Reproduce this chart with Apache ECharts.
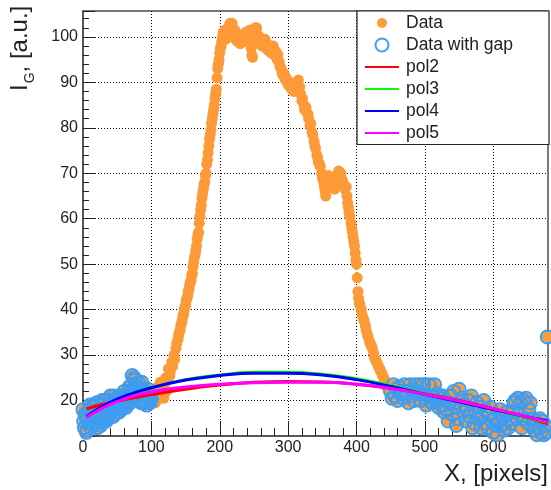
<!DOCTYPE html>
<html>
<head>
<meta charset="utf-8">
<script src="https://cdn.jsdelivr.net/npm/echarts@6/dist/echarts.min.js"></script>
<style>
  html, body { margin: 0; padding: 0; background: #fff; }
  #chart { width: 551px; height: 490px; }
</style>
</head>
<body>
<div id="chart"></div>
<script>
// left side, outside the peak -> also goes into "Data with gap"
var leftX = [0, 1, 2, 3, 4, 5, 6, 7, 8, 9, 10, 11, 12, 13, 14, 15, 16, 17, 18, 19, 20, 21, 22, 23, 24, 25,
  26, 27, 28, 29, 30, 31, 32, 33, 34, 35, 36, 37, 38, 39, 40, 41, 42, 43, 44, 45, 46, 47, 48, 49, 50,
  51, 52, 53, 54, 55, 56, 57, 58, 59, 60, 61, 62, 63, 64, 65, 66, 67, 68, 69, 70, 71, 72, 73, 74, 75,
  76, 77, 78, 79, 80, 81, 82, 83, 84, 85, 86, 87, 88, 89, 90, 91, 92, 93, 94, 95, 96, 97, 98, 99, 100];
var leftY = [18, 15.5, 14, 17, 16.5, 13, 13.5, 16, 15, 18, 19, 14, 17, 16.5, 14.5, 19, 18.5, 15, 16, 17, 19.5, 14, 15, 18, 17.5, 16,
  14.5, 19, 20, 15.5, 16.5, 17.5, 18, 20, 15.5, 16, 19, 18.5, 17, 20, 21, 17.5, 18, 19, 16.5, 21, 20, 17, 19, 18.5, 17.5,
  20, 21, 17.5, 19.5, 21, 18, 18.5, 20.5, 19.5, 22, 21, 19, 18.5, 21, 20.5, 20, 22, 23, 19.5, 21.5, 23.5, 25.5, 22, 22, 25,
  24.5, 20.5, 21, 22.5, 23, 24, 20, 21, 22.5, 19.5, 24, 22, 21, 20, 19.5, 21, 22, 19, 20.5, 22.5, 21.5, 20, 19.5, 21, 20.5];

// the peak, only in "Data"
var peakX = [101, 103, 104, 106, 107, 109, 110, 112, 113, 115, 116, 118, 119, 121, 122, 124, 125, 127, 128, 130,
  131, 133, 134, 136, 137, 139, 140, 141, 142, 143, 144, 145, 146, 147, 148, 149, 150, 151, 152, 153, 154, 155,
  156, 157, 158, 159, 160, 161, 162, 163, 164, 165, 166, 167, 168, 169, 170, 171, 172, 173, 174, 175, 176, 177,
  178, 179, 180, 181, 182, 183, 184, 185, 186, 187, 188, 189, 190, 191, 192, 193, 194, 195, 196, 197, 198, 199,
  200, 201, 202, 203, 204, 206,
  205, 207, 208, 209, 210, 212, 213, 214, 215, 216, 217, 218, 219, 220, 222, 223, 224, 226, 227, 229, 230, 232,
  233, 235, 236, 238, 239, 241, 242, 244, 245, 246, 247, 248, 249, 250, 251, 252, 253, 254, 255, 257, 258, 260,
  262, 263, 265, 266, 268, 269, 271, 272, 274, 275, 277, 278, 280, 281, 283, 284, 285, 287, 288, 290, 291, 293,
  294, 296, 297, 299,
  300, 302, 303, 305, 306, 308, 309, 311, 312, 314, 315, 317, 318, 320, 321, 323, 324, 326, 327, 329, 330, 332,
  333, 335, 336, 338, 339, 340, 342, 343, 344, 346, 347, 349, 350, 352, 353, 354, 355, 356, 358, 359, 361, 362,
  364, 365, 367, 368, 370, 371, 373, 374, 376, 377, 379, 380, 382, 383, 385, 386, 387, 388, 389, 390, 392, 393,
  394, 395, 396, 397, 398, 399,
  400, 401, 402, 403, 404, 405, 407, 408, 410, 411, 413, 414, 416, 417, 419, 420, 422, 423, 425, 426, 428, 429,
  431, 432, 434, 435, 437, 438, 440, 441, 443, 444, 446, 447, 449];
var peakY = [21.5, 20, 22.5, 19.5, 21, 23, 20.5, 22, 24, 21, 22.5, 20.5, 23.5, 25, 22, 24.5, 27, 25.5, 26.5, 28.5,
  27.5, 30, 29, 31.5, 32.5, 33.5, 34.5, 35, 35.5, 36.5, 37, 37.5, 38.5, 39, 40, 40.5, 41, 42, 42.5, 43, 44, 44.5,
  45.5, 46, 46.5, 47.5, 48, 49.5, 50.5, 51.5, 52, 53, 54, 55.5, 56.5, 57, 59, 60.5, 62, 63, 64.5, 65.5, 66.5, 67.5,
  68, 69.5, 70, 72, 73, 74.5, 76, 77.5, 78.5, 79.5, 81, 82, 83, 84, 85, 86.5, 87.5, 88.5, 91, 93, 94, 95,
  96.5, 97.5, 98, 99, 100, 100.5,
  101, 100, 101.5, 99.5, 100.5, 101, 102, 102.5, 103, 101.5, 102.5, 103, 102, 100.5, 101.5, 99.5, 100, 99, 99.5, 100, 98.5, 99.5,
  100.5, 99, 100, 101, 100, 99.5, 100.5, 101.5, 99, 97.5, 96, 95.5, 98.5, 100.5, 101.5, 102, 101, 102, 100.5, 99.5, 100, 99,
  98, 99, 98.5, 99.5, 97.5, 98.5, 97, 98, 97.5, 96.5, 97.5, 98, 96, 97, 96.5, 95, 96, 94.5, 93.5, 93, 92, 91.5,
  92, 90.5, 91, 90,
  89.5, 90, 89, 88.5, 89.5, 88, 89, 90, 88.5, 89.5, 90.5, 89, 87.5, 86, 86.5, 85, 84, 84.5, 83.5, 83, 82, 80.5,
  81, 79, 78.5, 77, 76, 75.5, 74, 73.5, 72.5, 72, 71.5, 70, 69, 68, 67, 66, 65, 66.5, 68, 69.5, 68.5, 67.5,
  68, 69, 67, 66.5, 68, 69, 70, 70.5, 69.5, 70, 68.5, 68, 67, 66.5, 67, 65, 63.5, 62.5, 61.5, 60.5, 59, 58,
  57, 56, 55, 54, 52.5, 51,
  50, 47, 44, 42.5, 41.5, 41, 40, 39, 38, 37.5, 36.5, 35.5, 34.5, 34, 33, 32.5, 32, 31.5, 30.5, 29.5, 29, 28.5,
  28, 27.5, 27, 26.5, 26, 25.5, 25, 24.5, 23.5, 23, 22.5, 22, 21.5];

// right side, outside the peak -> also goes into "Data with gap"
var rightX = [450, 452, 454, 456, 458, 460, 462, 464, 466, 468, 470, 472, 474, 476, 478, 480, 482, 484, 486, 488,
  490, 492, 494, 496, 498, 500, 502, 504, 506, 508, 510, 512, 514, 516, 518, 520, 522, 524, 526, 528, 530, 532,
  534, 536, 538, 540, 542, 544, 546, 548, 550, 552, 554, 556, 558, 560, 562, 564, 566, 568, 570, 572, 574, 576,
  578, 580, 582, 584, 586, 588, 590, 592, 594, 596, 598, 600, 602, 604, 606, 608, 610, 612, 614, 616, 618, 620,
  622, 624, 626, 628, 630, 632, 634, 636, 638, 640, 642, 644, 646, 648, 650, 652, 654, 656, 658, 660, 662, 664,
  666, 668, 670, 672, 674, 676, 678, 679];
var rightY = [22, 20.5, 23.5, 21, 22.5, 20, 23, 21.5, 22, 20.5, 23.5, 21, 22, 19.5, 23.5, 21, 22.5, 20, 23.5, 21.5,
  22, 23.5, 20, 21.5, 23.5, 20.5, 19, 21, 23.5, 20, 19.5, 21, 23.5, 20, 21.5, 18.5, 20.5, 19, 21, 17.5, 20, 18,
  15.5, 19.5, 21, 17, 22, 18.5, 14.5, 16, 22.5, 19, 20.5, 17.5, 19, 15.5, 18, 20, 16.5, 21, 14, 15, 17.5, 19.5,
  16, 18.5, 14, 16.5, 20, 18, 15, 14, 17, 18.5, 15.5, 13, 16, 14.5, 12.5, 15.5, 18, 14.5, 16.5, 13.5, 15, 17.5,
  14, 16, 15, 17.5, 19.5, 20, 16, 20.5, 17, 19.5, 14, 20, 16, 20.5, 15, 18, 19.5, 14.5, 16, 13.5, 15.5, 12.5,
  14, 16, 13, 15.5, 12.5, 14.5, 13, 34];

// fit curves, read at these x
var fitX = [5, 50, 100, 150, 200, 250, 300, 350, 400, 450, 500, 550, 600, 650, 680];
var pol2 = [18.2, 19.9, 21.3, 22.5, 23.4, 24.0, 24.2, 24.1, 23.6, 22.7, 21.5, 20.0, 18.2, 16.2, 14.9];
var pol3 = [16.6, 20.2, 22.8, 24.6, 25.6, 26.2, 26.2, 25.8, 24.8, 23.3, 21.5, 19.8, 18.0, 16.2, 15.3];
var pol4 = [16.5, 20.3, 22.8, 24.5, 25.5, 26.0, 26.0, 25.6, 24.6, 23.1, 21.4, 19.7, 18.0, 16.4, 15.5];
var pol5 = [16.3, 19.8, 21.9, 23.0, 23.6, 23.9, 24.0, 24.0, 23.6, 22.7, 21.4, 19.9, 18.2, 16.4, 15.3];

var FONT = '"Liberation Sans", Arial, Helvetica, sans-serif';

function pairs(xs, ys) {
  return xs.map(function (x, i) { return [x, ys[i]]; });
}

var gapData = pairs(leftX, leftY).concat(pairs(rightX, rightY));
var allData = pairs(leftX, leftY).concat(pairs(peakX, peakY), pairs(rightX, rightY));

function fitSeries(name, vals, color) {
  return {
    name: name,
    type: 'line',
    data: pairs(fitX, vals),
    smooth: true,
    symbol: 'none',
    showSymbol: false,
    lineStyle: { color: color, width: 3 },
    itemStyle: { color: color },
    z: 5
  };
}

// legend entry for a fit: line only, no dot
function lineLegend(name) {
  return { name: name, itemStyle: { color: 'rgba(0,0,0,0)', borderWidth: 0 } };
}

var chart = echarts.init(document.getElementById('chart'));
var options = {
  animation: false,
  backgroundColor: '#fff',
  grid: {
    left: 83, right: 3, top: 11, bottom: 54,
    show: true, borderColor: '#4d4d4d', borderWidth: 1.5, backgroundColor: 'transparent'
  },
  legend: {
    orient: 'vertical',
    left: 357, top: 11,
    padding: [3, 36, 2.5, 7],
    itemWidth: 34, itemHeight: 13, itemGap: 4,
    backgroundColor: '#fff',
    borderColor: '#222', borderWidth: 1.2,
    selectedMode: false,
    textStyle: { fontSize: 17.5, fontFamily: FONT, color: '#222', padding: [0, 0, 0, 2] },
    data: [
      // smaller dot inside a 13px box
      { name: 'Data', icon: 'path://M0,0M13,13M1.5,6.5A5,5,0,1,1,11.5,6.5A5,5,0,1,1,1.5,6.5Z' },
      'Data with gap',
      lineLegend('pol2'), lineLegend('pol3'), lineLegend('pol4'), lineLegend('pol5')
    ]
  },
  xAxis: {
    type: 'value', min: 0, max: 680, interval: 100,
    axisLine: { show: true, onZero: false, lineStyle: { color: '#4d4d4d', width: 1.5 } },
    axisTick: { inside: true, length: 15, lineStyle: { color: '#222', width: 1 } },
    minorTick: { show: true, splitNumber: 5, length: 8, lineStyle: { color: '#222', width: 1 } },
    axisLabel: {
      fontSize: 16, fontFamily: FONT, color: '#222', margin: 4,
      formatter: function (v) { return v % 100 === 0 ? String(v) : ''; }
    },
    splitLine: { show: true, showMinLine: false, showMaxLine: false, lineStyle: { color: '#000', type: [1, 2], width: 1 } }
  },
  yAxis: {
    type: 'value', min: 12.2, max: 105.7, splitNumber: 9,
    axisLine: { show: true, onZero: false, lineStyle: { color: '#4d4d4d', width: 1.5 } },
    axisTick: { inside: true, length: 12, lineStyle: { color: '#222', width: 1 } },
    minorTick: { show: true, splitNumber: 5, length: 6, lineStyle: { color: '#222', width: 1 } },
    axisLabel: {
      fontSize: 16, fontFamily: FONT, color: '#222', margin: 5,
      formatter: function (v) { return Math.abs(v % 10) < 1e-6 ? String(v) : ''; }
    },
    splitLine: { show: true, showMinLine: false, showMaxLine: false, lineStyle: { color: '#000', type: [1, 2], width: 1 } }
  },
  graphic: [
    {
      type: 'text', right: 3, top: 462,
      style: { text: 'X, [pixels]', font: '24px ' + FONT, fill: '#222' }
    },
    {
      type: 'text', x: 37, y: 91, rotation: Math.PI / 2,
      style: {
        text: '{m|I}{s|G}{m|, [a.u.]}',
        fill: '#222', align: 'left', verticalAlign: 'bottom',
        rich: {
          m: { fontSize: 24, fontFamily: FONT, fill: '#222' },
          s: { fontSize: 14, fontFamily: FONT, fill: '#222', padding: [20, 0, 0, 1] }
        }
      }
    }
  ],
  series: [
    {
      name: 'Data', type: 'scatter', data: allData, symbol: 'circle', symbolSize: 11,
      itemStyle: { color: '#fd9a38', opacity: 1 }, z: 2
    },
    {
      name: 'Data with gap', type: 'scatter', data: gapData, symbol: 'circle', symbolSize: 13,
      itemStyle: { color: 'rgba(0,0,0,0)', borderColor: '#3d9df2', borderWidth: 2, opacity: 1 }, z: 3
    },
    fitSeries('pol2', pol2, '#ff0000'),
    fitSeries('pol3', pol3, '#00ff00'),
    fitSeries('pol4', pol4, '#0000ff'),
    fitSeries('pol5', pol5, '#ff00ff')
  ]
};
chart.setOption(options);
</script>
</body>
</html>
